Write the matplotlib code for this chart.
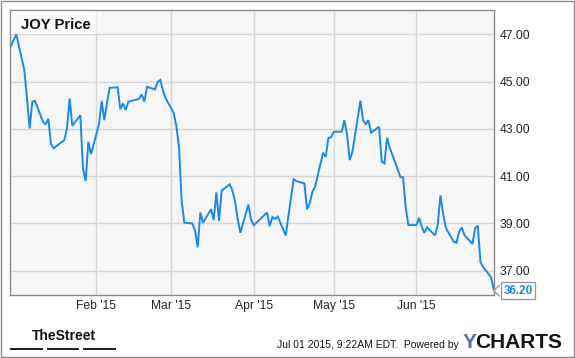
import pandas as pd
import matplotlib
matplotlib.use("Agg")
import matplotlib.pyplot as plt
from matplotlib.patches import Rectangle
from matplotlib.lines import Line2D

W, H = 575, 358

# JOY daily closes, Dec 31 2014 - Jun 30 2015
holidays = ["2015-01-01", "2015-01-19", "2015-02-16", "2015-04-03", "2015-05-25"]
days = pd.bdate_range("2014-12-31", "2015-06-30")
days = days[~days.isin(pd.to_datetime(holidays))]

prices = [
    46.52,
    # Jan
    47.00, 45.49, 44.30, 43.02, 44.15, 44.19, 43.30, 43.20, 43.43, 42.36,
    42.18, 42.53, 43.02, 44.29, 43.13, 43.58, 41.33, 40.79, 42.45, 41.93,
    # Feb
    43.20, 44.18, 43.37, 44.10, 44.74, 44.76, 43.83, 44.08, 43.80, 44.15,
    44.27, 44.46, 44.15, 44.78, 44.67, 44.99, 45.07, 44.62, 44.29,
    # Mar
    43.68, 43.12, 42.22, 39.95, 39.03, 39.00, 38.70, 37.99, 39.46, 39.03,
    39.60, 39.14, 40.31, 39.11, 40.39, 40.65, 40.40, 39.93, 39.19, 38.60,
    39.80, 39.16,
    # Apr
    38.92, 39.03, 39.46, 38.89, 39.27, 39.19, 39.29, 38.49, 39.30, 40.10,
    40.87, 40.79, 40.69, 39.60, 39.85, 40.34, 40.55, 41.99, 41.82, 42.62,
    42.64,
    # May
    42.88, 42.88, 43.37, 42.74, 41.68, 42.03, 44.19, 43.37, 43.20, 43.37,
    42.84, 43.09, 41.61, 41.54, 42.62, 42.20, 40.97, 40.95, 39.64, 38.93,
    # Jun
    38.93, 39.24, 38.86, 38.60, 38.83, 38.49, 38.93, 40.19, 39.42, 38.82,
    38.22, 38.18, 38.65, 38.83, 38.51, 38.13, 38.79, 38.90, 37.36, 37.15,
    36.72, 36.20,
]

month_ticks = ["2015-02-01", "2015-03-01", "2015-04-01", "2015-05-01", "2015-06-01"]
month_labels = ["Feb '15", "Mar '15", "Apr '15", "May '15", "Jun '15"]
price_ticks = [37, 39, 41, 43, 45, 47]

font = "Liberation Sans"
blue = "#1a88e6"


def fx(px):
    return px / W


def fy(py):
    return 1 - py / H


fig = plt.figure(figsize=(W / 100, H / 100), dpi=100)
fig.patch.set_facecolor("white")

# plot area in pixels: x 10..494, y 10..295
ax = fig.add_axes([fx(10.3), fy(295), fx(494) - fx(10.3), fy(10.3) - fy(295)])
ax.set_facecolor("#f6f6f6")
ax.plot(days, prices, color=blue, lw=1.4, zorder=3, solid_joinstyle="miter")

ax.set_xlim(pd.Timestamp("2014-12-30 18:00"), pd.Timestamp("2015-06-30 02:00"))
ax.set_ylim(35.97, 48.02)

ax.set_xticks(pd.to_datetime(month_ticks))
ax.set_xticklabels(month_labels, fontfamily=font, fontsize=8.7, color="#222222")
ax.set_yticks(price_ticks)
ax.set_yticklabels(["%.2f" % v for v in price_ticks], fontfamily=font,
                   fontsize=8.7, color="#222222")
ax.yaxis.tick_right()
ax.tick_params(axis="y", length=0, pad=3.8)
ax.tick_params(axis="x", length=0, pad=3.5)
ax.grid(True, color="#d6d6d6", lw=1)
ax.set_axisbelow(True)
for s in ax.spines.values():
    s.set_color("#8a8a8a")
    s.set_linewidth(1)

# title box
fig.add_artist(Rectangle((fx(10.8), fy(34)), fx(101.7) - fx(10.8), fy(10.8) - fy(34),
                         transform=fig.transFigure, fc="white", ec="none", alpha=0.55,
                         zorder=5))
fig.text(fx(20.7), fy(29.3), "JOY Price", fontfamily=font, fontweight="bold",
         fontsize=10.7, color="#111111", va="baseline", ha="left", zorder=6)

# last value label with pointer
fig.text(fx(518), fy(290.5), "%.2f" % prices[-1], fontfamily=font, fontweight="bold",
         fontsize=8.5, color=blue, ha="center", va="center",
         bbox=dict(boxstyle="square,pad=0.18", fc="white", ec="#999999", lw=1))
fig.add_artist(Line2D([fx(499.3), fx(493.6), fx(499.3)], [fy(285.5), fy(290.7), fy(296)],
                      transform=fig.transFigure, color="#999999", lw=1))

# footer
fig.text(fx(63.5), fy(340), "TheStreet", fontfamily=["Liberation Sans Narrow", font],
         fontweight="bold", fontsize=10, color="#111111", ha="center", va="baseline")
for x0, x1 in [(10, 42.7), (46.7, 79.3), (83.3, 115.7)]:
    fig.add_artist(Rectangle((fx(x0), fy(350.3)), fx(x1) - fx(x0), fy(347.5) - fy(350.3),
                             transform=fig.transFigure, fc="#222222", ec="none"))
fig.text(fx(459), fy(347.7), "Jul 01 2015, 9:22AM EDT.  Powered by", fontfamily=font,
         fontsize=7.5, color="#111111", ha="right", va="baseline")
fig.text(fx(462.5), fy(348.3), "Y", fontfamily=font, fontweight="bold", fontsize=15,
         color="#5a6cae", ha="left", va="baseline")
fig.text(fx(475.5), fy(348.3), "CHARTS", fontfamily=font, fontweight="bold", fontsize=15,
         color="#141414", ha="left", va="baseline")

# outer frame
fig.add_artist(Rectangle((0.0009, 0.0014), 0.9974, 0.9958, transform=fig.transFigure,
                         fill=False, ec="#8c8c8c", lw=1))

fig.savefig("out.png", dpi=100, facecolor="white")
